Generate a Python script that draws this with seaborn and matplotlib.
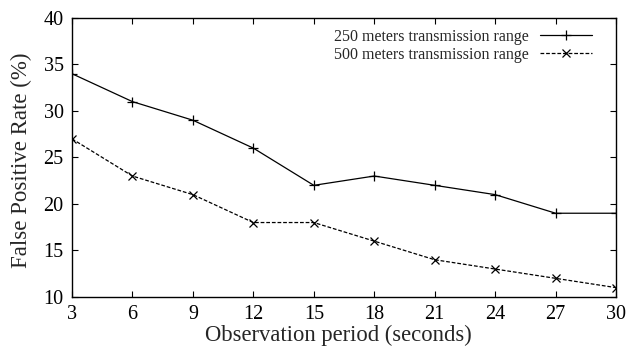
import matplotlib
matplotlib.use("Agg")
import matplotlib.pyplot as plt
import seaborn as sns
import pandas as pd

periods = [3, 6, 9, 12, 15, 18, 21, 24, 27, 30]
fpr_250 = [34, 31, 29, 26, 22, 23, 22, 21, 19, 19]
fpr_500 = [27, 23, 21, 18, 18, 16, 14, 13, 12, 11]
labels = ["250 meters transmission range", "500 meters transmission range"]

sns.set_theme(style="ticks")
plt.rcParams["font.family"] = ["Liberation Serif", "DejaVu Serif"]

fig = plt.figure(figsize=(6.28, 3.51), dpi=100)
ax = fig.add_axes([0.1146, 0.154, 0.8664, 0.795])

df1 = pd.DataFrame({"period": periods, "rate": fpr_250})
df2 = pd.DataFrame({"period": periods, "rate": fpr_500})

sns.lineplot(data=df1, x="period", y="rate", ax=ax, color="black", lw=0.9,
             marker="+", markersize=6.5, markeredgewidth=0.9,
             markeredgecolor="black", label=labels[0])
sns.lineplot(data=df2, x="period", y="rate", ax=ax, color="black", lw=0.9,
             marker="x", markersize=6.2, markeredgewidth=0.9,
             markeredgecolor="black", label=labels[1],
             dashes=False, linestyle=(0, (3, 1.5)))

ax.set_xlim(3, 30)
ax.set_ylim(10, 40)
ax.set_xticks(periods)
ax.set_yticks([10, 15, 20, 25, 30, 35, 40])
ax.tick_params(direction="in", length=4.5, width=0.8, top=True, right=True,
               labelsize=14.5, colors="black", pad=6)
for s in ax.spines.values():
    s.set_linewidth(1.0)
    s.set_color("black")
    s.set_visible(True)

ax.set_xlabel("Observation period (seconds)", fontsize=16.3)
ax.set_ylabel("False Positive Rate (%)", fontsize=16.5)
ax.xaxis.set_label_coords(0.489, -0.100)
ax.yaxis.set_label_coords(-0.0735, 0.491)

leg = ax.legend(loc="upper right", bbox_to_anchor=(0.98, 1.007),
                frameon=False, markerfirst=False,
                fontsize=11.5, handlelength=3.3, handletextpad=0.7,
                borderaxespad=0.4, labelspacing=0.12)

fig.savefig("out.png", dpi=100)
